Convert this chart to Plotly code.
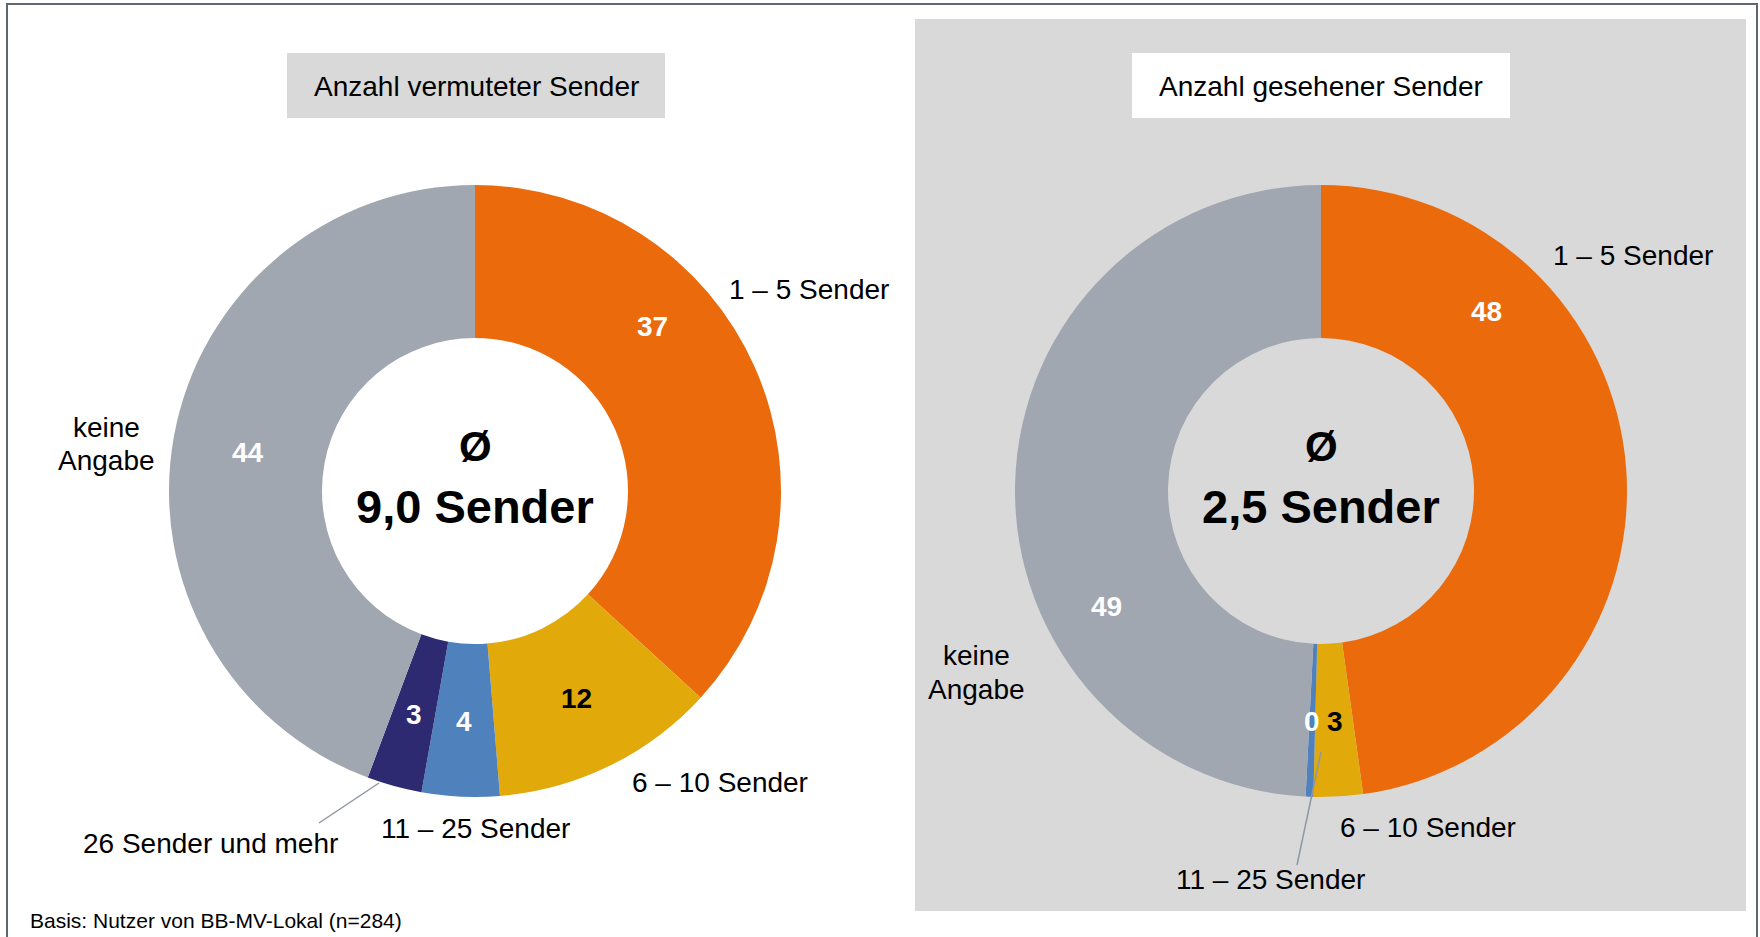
import plotly.graph_objects as go

W, H = 1760, 937

# ---------------- data ----------------
categories = ["1 – 5 Sender", "6 – 10 Sender", "11 – 25 Sender", "26 Sender und mehr", "keine Angabe"]
colors = ["#EB6B0C", "#E1A90A", "#4F81BD", "#2E2A72", "#A0A7B0"]
vermutet_values = [36.8, 11.9, 4.1, 2.9, 44.3]
gesehen_values = [47.8, 2.6, 0.4, 0, 49.2]
vermutet_title = "Anzahl vermuteter Sender"
gesehen_title = "Anzahl gesehener Sender"
vermutet_mean = "9,0 Sender"
gesehen_mean = "2,5 Sender"
footnote = "Basis: Nutzer von BB-MV-Lokal (n=284)"

FONT = "Arial, 'Liberation Sans', sans-serif"


def px(x):
    return x / W


def py(y):
    return 1 - y / H


# donut geometry (pixels)
R = 306
LEFT_C = (475, 491)
RIGHT_C = (1321, 491)


def domain(c):
    return dict(x=[px(c[0] - R), px(c[0] + R)], y=[py(c[1] + R), py(c[1] - R)])


fig = go.Figure()
for vals, c in [(vermutet_values, LEFT_C), (gesehen_values, RIGHT_C)]:
    fig.add_trace(go.Pie(
        labels=categories, values=vals, sort=False, direction="clockwise", rotation=0,
        hole=0.5, marker=dict(colors=colors, line=dict(width=0)),
        textinfo="none", hoverinfo="label+value", showlegend=False, domain=domain(c),
    ))

shapes = []
# outer frame
shapes.append(dict(type="rect", xref="paper", yref="paper", x0=px(7), x1=px(1757), y0=py(945), y1=py(4),
                   line=dict(color="#5F6670", width=2), fillcolor="rgba(0,0,0,0)", layer="below"))
# grey panel on the right
shapes.append(dict(type="rect", xref="paper", yref="paper", x0=px(915), x1=px(1746), y0=py(911), y1=py(19),
                   line=dict(width=0), fillcolor="#D9D9D9", layer="below"))
# title boxes
shapes.append(dict(type="rect", xref="paper", yref="paper", x0=px(287), x1=px(665), y0=py(118), y1=py(53),
                   line=dict(width=0), fillcolor="#D9D9D9", layer="below"))
shapes.append(dict(type="rect", xref="paper", yref="paper", x0=px(1132), x1=px(1510), y0=py(118), y1=py(53),
                   line=dict(width=0), fillcolor="#FFFFFF", layer="below"))
# leader lines
for (x0, y0, x1, y1) in [(319, 823, 379, 783), (1297, 865, 1321, 752)]:
    shapes.append(dict(type="line", xref="paper", yref="paper", x0=px(x0), y0=py(y0), x1=px(x1), y1=py(y1),
                       line=dict(color="#8E97A3", width=1.5), layer="above"))

ann = []


def text(x, y, s, size=28, color="#000000", bold=False, xanchor="center"):
    ann.append(dict(x=px(x), y=py(y), xref="paper", yref="paper", text=(f"<b>{s}</b>" if bold else s),
                    showarrow=False, xanchor=xanchor, yanchor="middle",
                    font=dict(family=FONT, size=size, color=color)))


# titles
text(476, 86, vermutet_title)
text(1321, 86, gesehen_title)

# centre texts
text(475, 446, "Ø", size=42, bold=True)
text(475, 506, vermutet_mean, size=47, bold=True)
text(1321, 446, "Ø", size=42, bold=True)
text(1321, 506, gesehen_mean, size=47, bold=True)

# value labels (left)
left_val_pos = [(652, 326), (576, 698), (464, 721), (414, 714), (248, 452)]
left_val_col = ["#FFFFFF", "#000000", "#FFFFFF", "#FFFFFF", "#FFFFFF"]
for v, (x, y), col in zip(vermutet_values, left_val_pos, left_val_col):
    text(x, y, str(round(v)), bold=True, color=col)

# value labels (right)
right_val_pos = [(1486, 311), (1335, 721), (1312, 721), None, (1106, 606)]
right_val_col = ["#FFFFFF", "#000000", "#FFFFFF", None, "#FFFFFF"]
for v, pos, col in zip(gesehen_values, right_val_pos, right_val_col):
    if pos is None:
        continue
    text(pos[0], pos[1], str(round(v)), bold=True, color=col)

# category labels (left)
text(809, 289, categories[0])
text(720, 782, categories[1])
text(475, 828, categories[2])
text(210, 843, categories[3])
text(106, 427, "keine")
text(106, 460, "Angabe")

# category labels (right)
text(1633, 256, categories[0])
text(1428, 827, categories[1])
text(1270, 879, categories[2])
text(977, 655, "keine")
text(977, 689, "Angabe")

# footnote
text(28, 920, footnote, size=21, xanchor="left")

fig.update_layout(
    width=W, height=H, autosize=False,
    margin=dict(l=0, r=0, t=0, b=0),
    paper_bgcolor="#FFFFFF", plot_bgcolor="#FFFFFF",
    shapes=shapes, annotations=ann,
    font=dict(family=FONT),
)

fig.write_html("out.html", config={"displayModeBar": False},
               post_script="document.body.style.margin='0';document.body.style.overflow='hidden';")
